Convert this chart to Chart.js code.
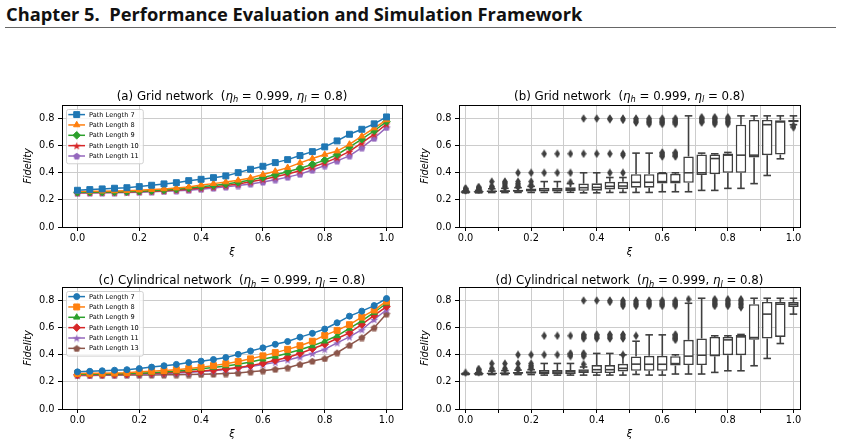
<!DOCTYPE html>
<html>
<head>
<meta charset="utf-8">
<script src="https://cdn.jsdelivr.net/npm/chart.js@4.4.1/dist/chart.umd.min.js"></script>
<style>
  body { margin: 0; background: #fff; width: 841px; height: 447px; position: relative; overflow: hidden; }
  #head { position: absolute; left: 6px; top: 1px; font: bold 18.3px "Open Sans", sans-serif; color: #111; white-space: pre; }
  #rule { position: absolute; left: 5px; top: 27px; width: 831px; height: 1px; background: #666; }
  canvas { position: absolute; }
</style>
</head>
<body>
<div id="head">Chapter 5.  Performance Evaluation and Simulation Framework</div>
<div id="rule"></div>
<canvas id="ca" width="420" height="180" style="left:0;top:80px"></canvas>
<canvas id="cb" width="420" height="180" style="left:420px;top:80px"></canvas>
<canvas id="cc" width="420" height="180" style="left:0;top:262px"></canvas>
<canvas id="cd" width="420" height="180" style="left:420px;top:262px"></canvas>
<script>
// xi values (26 points, step 0.04)
const xi = [0.00, 0.04, 0.08, 0.12, 0.16, 0.20, 0.24, 0.28, 0.32, 0.36, 0.40, 0.44, 0.48,
            0.52, 0.56, 0.60, 0.64, 0.68, 0.72, 0.76, 0.80, 0.84, 0.88, 0.92, 0.96, 1.00];

const lineTicks = [0, 0.2, 0.4, 0.6, 0.8, 1.0];
const lineTickLabels = ['0.0', '0.2', '0.4', '0.6', '0.8', '1.0'];
const boxTicks = [0, 0.1, 0.2, 0.3, 0.4, 0.5, 0.6, 0.7, 0.8, 0.9, 1.0];
const boxTickLabels = ['0.0', '', '0.2', '', '0.4', '', '0.6', '', '0.8', '', '1.0'];
const yTicks = [0, 0.2, 0.4, 0.6, 0.8];
const yTickLabels = ['0.0', '0.2', '0.4', '0.6', '0.8'];

// (a) grid network, mean fidelity per path length
const gridL7  = [.271,.276,.281,.286,.290,.298,.308,.318,.327,.342,.352,.364,.377,.401,.426,.448,.475,.497,.527,.556,.591,.635,.684,.721,.761,.812];
const gridL8  = [.262,.263,.264,.266,.268,.272,.276,.281,.287,.295,.310,.320,.332,.345,.362,.387,.411,.438,.473,.505,.535,.560,.610,.670,.730,.790];
const gridL9  = [.256,.257,.258,.259,.261,.264,.268,.273,.279,.287,.297,.307,.318,.330,.346,.366,.385,.408,.434,.462,.493,.535,.590,.648,.710,.778];
const gridL10 = [.253,.254,.255,.256,.258,.261,.264,.268,.273,.279,.287,.296,.306,.318,.333,.351,.370,.391,.415,.443,.473,.512,.558,.620,.685,.760];
const gridL11 = [.250,.251,.252,.253,.255,.257,.260,.263,.267,.272,.279,.287,.296,.306,.318,.332,.349,.368,.390,.420,.453,.488,.525,.585,.655,.735];

// (c) cylindrical network
const cylL7  = [.274,.278,.282,.286,.290,.298,.309,.319,.329,.343,.353,.365,.380,.403,.428,.451,.477,.498,.530,.558,.590,.636,.685,.722,.763,.815];
const cylL8  = [.262,.263,.264,.266,.268,.274,.279,.284,.290,.298,.308,.320,.334,.350,.370,.392,.416,.440,.467,.500,.543,.580,.622,.678,.730,.795];
const cylL9  = [.256,.257,.258,.259,.261,.264,.268,.273,.279,.287,.297,.307,.318,.330,.347,.367,.388,.411,.437,.466,.500,.540,.595,.650,.712,.780];
const cylL10 = [.252,.253,.254,.256,.258,.261,.264,.267,.271,.276,.281,.287,.295,.306,.320,.337,.359,.380,.410,.445,.478,.520,.561,.624,.690,.756];
const cylL11 = [.249,.250,.251,.252,.254,.256,.259,.262,.266,.270,.276,.283,.292,.302,.314,.328,.344,.362,.384,.410,.441,.488,.532,.585,.660,.732];
const cylL13 = [.248,.248,.249,.249,.250,.250,.251,.252,.253,.254,.256,.258,.261,.266,.274,.283,.294,.305,.330,.354,.373,.415,.471,.527,.600,.702];

// (b) grid network box plots
const gridQ1  = [.255,.256,.258,.259,.260,.262,.262,.262,.265,.267,.268,.277,.279,.290,.290,.320,.320,.326,.383,.390,.400,.400,.513,.530,.535,.773];
const gridMed = [.258,.259,.263,.265,.266,.270,.272,.273,.278,.290,.292,.300,.302,.330,.330,.335,.335,.400,.400,.505,.530,.530,.530,.755,.775,.782];
const gridQ3  = [.262,.264,.270,.272,.275,.284,.290,.290,.293,.320,.322,.333,.333,.390,.390,.400,.392,.520,.535,.535,.542,.755,.790,.790,.787,.790];
const gridLo  = [.252,.252,.254,.254,.255,.255,.255,.255,.256,.252,.252,.255,.255,.255,.255,.260,.260,.260,.270,.270,.285,.285,.320,.380,.503,.755];
const gridHi  = [.266,.270,.282,.285,.290,.300,.335,.335,.320,.400,.400,.365,.365,.545,.545,.400,.400,.820,.545,.540,.550,.820,.820,.820,.820,.820];
const gridOut = [
  [.270,.275,.280,.285], [.275,.280,.285,.290,.295], [.290,.295,.300,.335], [.290,.300,.310,.320,.330,.335],
  [.295,.300,.310,.320,.335,.400], [.300,.310,.335,.400], [.400,.540], [.400,.540], [.330,.400,.540],
  [.540,.800], [.540,.800], [.400,.540,.795,.800], [.400,.530,.540,.790,.800],
  [.770,.780,.790,.800], [.760,.770,.780,.790,.800], [.520,.530,.540,.550,.760,.770,.780,.790,.800],
  [.520,.530,.540,.550,.760,.770,.780,.790,.800], [], [.770,.780,.790,.800,.810],
  [.760,.770,.780,.790,.800,.810], [.760,.770,.780,.790,.800,.810], [], [], [], [], [.735,.745]
];

// (d) cylindrical network box plots
const cylQ1  = [.256,.256,.258,.259,.260,.262,.256,.256,.258,.265,.265,.265,.277,.282,.282,.282,.320,.324,.324,.388,.397,.397,.510,.520,.532,.753];
const cylMed = [.258,.259,.262,.264,.265,.268,.270,.272,.274,.280,.290,.290,.300,.331,.330,.330,.335,.390,.397,.397,.510,.532,.527,.700,.773,.773];
const cylQ3  = [.261,.263,.268,.270,.273,.278,.287,.287,.287,.294,.324,.324,.333,.388,.392,.392,.390,.510,.520,.532,.532,.545,.773,.790,.790,.790];
const cylLo  = [.254,.253,.254,.254,.254,.254,.250,.250,.250,.250,.250,.250,.250,.255,.250,.250,.258,.258,.258,.270,.282,.282,.319,.373,.483,.700];
const cylHi  = [.264,.268,.280,.283,.287,.290,.336,.336,.336,.310,.410,.410,.400,.500,.547,.547,.400,.780,.817,.540,.540,.550,.817,.817,.817,.817];
const cylOut = [
  [.268], [.272,.280,.290,.295], [.290,.300,.335], [.290,.300,.335], [.290,.300,.335,.400],
  [.300,.310,.320,.335,.400], [.400,.540], [.400,.540], [.390,.400,.410,.540],
  [.330,.390,.400,.410,.520,.530,.540,.550,.800], [.520,.530,.540,.550,.800], [.520,.530,.540,.550,.790,.800],
  [.400,.520,.530,.540,.550,.760,.770,.780,.790,.800], [.540,.760,.770,.780,.790,.800],
  [.760,.770,.780,.790,.800], [.760,.770,.780,.790,.800], [.510,.520,.530,.540,.550,.760,.770,.780,.790,.800],
  [.810], [], [.760,.770,.780,.790,.800,.810], [.760,.770,.780,.790,.800,.810],
  [.750,.760,.770,.780,.790,.800,.810], [], [], [], []
];

const FONT = 'DejaVu Sans';
const C = { blue: '#1f77b4', orange: '#ff7f0e', green: '#2ca02c', red: '#d62728', purple: '#9467bd', brown: '#8c564b' };
Chart.defaults.font.family = FONT;

// filled marker shapes chart.js does not have
function shape(kind, color, w, h) {
  const c = document.createElement('canvas');
  c.width = w; c.height = h || w;
  const g = c.getContext('2d');
  const cx = c.width / 2, cy = c.height / 2, r = Math.min(cx, cy) - 0.3;
  g.fillStyle = color;
  g.beginPath();
  if (kind === 'star') {
    for (let k = 0; k < 10; k++) {
      const a = -Math.PI / 2 + k * Math.PI / 5, rr = k % 2 ? r * 0.42 : r;
      g.lineTo(cx + rr * Math.cos(a), cy + 0.6 + rr * Math.sin(a));
    }
  } else if (kind === 'pent') {
    for (let k = 0; k < 5; k++) {
      const a = -Math.PI / 2 + k * 2 * Math.PI / 5;
      g.lineTo(cx + r * Math.cos(a), cy + 0.4 + r * Math.sin(a));
    }
  } else {
    g.moveTo(cx, 0.2); g.lineTo(c.width - 0.2, cy); g.lineTo(cx, c.height - 0.2); g.lineTo(0.2, cy);
  }
  g.closePath();
  g.fill();
  return c;
}
const flier = shape('thin', '#3f3f3f', 6, 9);

function xScale(min, max, vals, labels) {
  return {
    type: 'linear', min, max, offset: false,
    afterBuildTicks: s => { s.ticks = vals.map(v => ({ value: v })); },
    afterFit: s => { s.height = 33; },
    ticks: { callback: (v, i) => labels[i], autoSkip: false, maxRotation: 0, padding: 2, color: '#000', font: { size: 9.8 } },
    grid: { color: '#cccccc', lineWidth: 1, tickLength: 4, tickColor: '#000', offset: false },
    border: { display: false },
    title: { display: true, text: 'ξ', color: '#000', font: { size: 9.8, style: 'italic' }, padding: { top: 0, bottom: 2 } }
  };
}
function yScale(width, pad) {
  return {
    type: 'linear', min: 0, max: 0.9,
    afterBuildTicks: s => { s.ticks = yTicks.map(v => ({ value: v })); },
    afterFit: s => { s.width = width; },
    ticks: { callback: (v, i) => yTickLabels[i], padding: 3.5, color: '#000', font: { size: 9.8 } },
    grid: { color: '#cccccc', lineWidth: 1, tickLength: 4, tickColor: '#000' },
    border: { display: false },
    title: { display: true, text: 'Fidelity', color: '#000', font: { size: 9.8, style: 'italic' }, padding: { top: pad, bottom: 0 } }
  };
}

const frame = {
  id: 'frame',
  afterDatasetsDraw(chart) {
    const { ctx, chartArea: a } = chart;
    ctx.save();
    ctx.strokeStyle = '#000';
    ctx.lineWidth = 1;
    ctx.strokeRect(Math.round(a.left) + 0.5, Math.round(a.top) + 0.5, Math.round(a.right - a.left), Math.round(a.bottom - a.top));
    ctx.restore();
  }
};

const mathTitle = {
  id: 'mathTitle',
  afterDraw(chart, args, o) {
    if (!o.text) return;
    const ctx = chart.ctx, a = chart.chartArea, fs = 11.8;
    const runs = [[o.text + '  (', ''], ['η', 'it'], ['h', 'sub'], [' = ' + o.etaH + ', ', ''],
                  ['η', 'it'], ['l', 'sub'], [' = ' + o.etaL + ')', '']];
    const fontOf = k => (k ? 'italic ' : '') + (k === 'sub' ? fs * 0.7 : fs) + 'px "DejaVu Sans"';
    ctx.save();
    let total = 0;
    runs.forEach(r => { ctx.font = fontOf(r[1]); r.w = ctx.measureText(r[0]).width; total += r.w; });
    let x = (a.left + a.right) / 2 - total / 2;
    const base = a.top - o.gap;
    ctx.fillStyle = '#000';
    ctx.textAlign = 'left';
    ctx.textBaseline = 'alphabetic';
    runs.forEach(r => {
      ctx.font = fontOf(r[1]);
      ctx.fillText(r[0], x, base + (r[1] === 'sub' ? fs * 0.22 : 0));
      x += r.w;
    });
    ctx.restore();
  }
};

const mplLegend = {
  id: 'mplLegend',
  afterDatasetsDraw(chart, args, o) {
    if (!o.show) return;
    const ctx = chart.ctx, a = chart.chartArea, ds = chart.data.datasets;
    const rowH = 10.35;
    ctx.save();
    ctx.font = '6.6px "DejaVu Sans"';
    const tw = Math.max(...ds.map(d => ctx.measureText(d.label).width));
    const x0 = a.left + 4, y0 = a.top + 4, w = 23 + tw + 4, h = ds.length * rowH + 2.5;
    ctx.beginPath();
    ctx.roundRect(x0 + 0.5, y0 + 0.5, w, h, 2);
    ctx.fillStyle = 'rgba(255,255,255,0.8)';
    ctx.fill();
    ctx.strokeStyle = 'rgba(204,204,204,0.9)';
    ctx.lineWidth = 1;
    ctx.stroke();
    ds.forEach((d, i) => {
      const cy = y0 + 5.6 + i * rowH;
      ctx.strokeStyle = d.borderColor;
      ctx.fillStyle = d.borderColor;
      ctx.lineWidth = 1.5;
      ctx.beginPath();
      ctx.moveTo(x0 + 2.3, cy);
      ctx.lineTo(x0 + 19, cy);
      ctx.stroke();
      ctx.lineWidth = 1;
      Chart.helpers.drawPoint(ctx, { pointStyle: d.pointStyle, radius: d.pointRadius, rotation: 0, borderWidth: 1 }, x0 + 10.7, cy);
      ctx.fillStyle = '#000';
      ctx.textBaseline = 'middle';
      ctx.fillText(d.label, x0 + 23, cy + 0.3);
    });
    ctx.restore();
  }
};

const boxParts = {
  id: 'boxParts',
  afterDatasetsDraw(chart, args, o) {
    if (!o.lo) return;
    const { ctx, scales: { y } } = chart;
    const bars = chart.getDatasetMeta(0).data;
    const seg = (x1, y1, x2, y2) => { ctx.beginPath(); ctx.moveTo(x1, y1); ctx.lineTo(x2, y2); ctx.stroke(); };
    ctx.save();
    ctx.strokeStyle = '#3f3f3f';
    ctx.lineWidth = 1.6;
    bars.forEach((b, i) => {
      const cx = b.x, hw = b.width / 2, cw = hw * 0.72;
      const pq1 = y.getPixelForValue(o.q1[i]), pq3 = y.getPixelForValue(o.q3[i]);
      const plo = y.getPixelForValue(o.lo[i]), phi = y.getPixelForValue(o.hi[i]);
      const pm = y.getPixelForValue(o.med[i]);
      seg(cx, pq3, cx, phi); seg(cx - cw, phi, cx + cw, phi);
      seg(cx, pq1, cx, plo); seg(cx - cw, plo, cx + cw, plo);
      seg(cx - hw + 0.8, pm, cx + hw - 0.8, pm);
    });
    ctx.restore();
  }
};

const baseOpts = () => ({
  responsive: false, animation: false, events: [],
  plugins: { legend: { display: false }, tooltip: { enabled: false } }
});

function lineChart(id, name, gap, pad, series) {
  const opts = baseOpts();
  opts.layout = { padding: { left: 0, right: 18, top: 25, bottom: 0 } };
  opts.scales = { x: xScale(-0.05, 1.05, lineTicks, lineTickLabels), y: yScale(62, pad) };
  opts.plugins.mathTitle = { text: name, etaH: '0.999', etaL: '0.8', gap };
  opts.plugins.mplLegend = { show: true };
  new Chart(document.getElementById(id), {
    type: 'line',
    data: {
      datasets: series.map(s => ({
        label: s.label,
        data: xi.map((x, i) => ({ x, y: s.values[i] })),
        borderColor: s.color, backgroundColor: s.color,
        pointBackgroundColor: s.color, pointBorderColor: s.color,
        borderWidth: 1.5, pointBorderWidth: 1,
        pointStyle: s.marker, pointRadius: s.r, tension: 0
      }))
    },
    options: opts,
    plugins: [frame, mplLegend, mathTitle]
  });
}

function boxChart(id, name, gap, st) {
  const opts = baseOpts();
  opts.layout = { padding: { left: 0, right: 40, top: 25, bottom: 0 } };
  opts.scales = { x: xScale(-0.02, 1.02, boxTicks, boxTickLabels), y: yScale(39, 0) };
  opts.plugins.mathTitle = { text: name, etaH: '0.999', etaL: '0.8', gap };
  opts.plugins.boxParts = st;
  const fliers = [];
  st.out.forEach((arr, i) => arr.forEach(v => fliers.push({ x: xi[i], y: v })));
  new Chart(document.getElementById(id), {
    type: 'bar',
    data: {
      datasets: [
        {
          type: 'bar', data: xi.map((x, i) => ({ x, y: [st.q1[i], st.q3[i]] })),
          backgroundColor: '#ffffff', borderColor: '#3f3f3f', borderWidth: 1.6,
          borderSkipped: false, barPercentage: 1, categoryPercentage: 0.8, grouped: false
        },
        { type: 'scatter', data: fliers, pointStyle: flier, pointRadius: 3 }
      ]
    },
    options: opts,
    plugins: [frame, boxParts, mathTitle]
  });
}

const star = c => shape('star', c, 9);
const pent = c => shape('pent', c, 8);

lineChart('ca', '(a) Grid network', 5.5, 23, [
  { label: 'Path Length 7', values: gridL7, color: C.blue, marker: 'rect', r: 4.2 },
  { label: 'Path Length 8', values: gridL8, color: C.orange, marker: 'triangle', r: 3.6 },
  { label: 'Path Length 9', values: gridL9, color: C.green, marker: 'rectRot', r: 3.8 },
  { label: 'Path Length 10', values: gridL10, color: C.red, marker: star(C.red), r: 3 },
  { label: 'Path Length 11', values: gridL11, color: C.purple, marker: pent(C.purple), r: 3 }
]);
lineChart('cc', '(c) Cylindrical network', 3, 23, [
  { label: 'Path Length 7', values: cylL7, color: C.blue, marker: 'circle', r: 3 },
  { label: 'Path Length 8', values: cylL8, color: C.orange, marker: 'rect', r: 4.2 },
  { label: 'Path Length 9', values: cylL9, color: C.green, marker: 'triangle', r: 3.6 },
  { label: 'Path Length 10', values: cylL10, color: C.red, marker: 'rectRot', r: 3.8 },
  { label: 'Path Length 11', values: cylL11, color: C.purple, marker: star(C.purple), r: 3 },
  { label: 'Path Length 13', values: cylL13, color: C.brown, marker: pent(C.brown), r: 3 }
]);
boxChart('cb', '(b) Grid network', 5.5,
  { q1: gridQ1, med: gridMed, q3: gridQ3, lo: gridLo, hi: gridHi, out: gridOut });
boxChart('cd', '(d) Cylindrical network', 3,
  { q1: cylQ1, med: cylMed, q3: cylQ3, lo: cylLo, hi: cylHi, out: cylOut });
</script>
</body>
</html>
